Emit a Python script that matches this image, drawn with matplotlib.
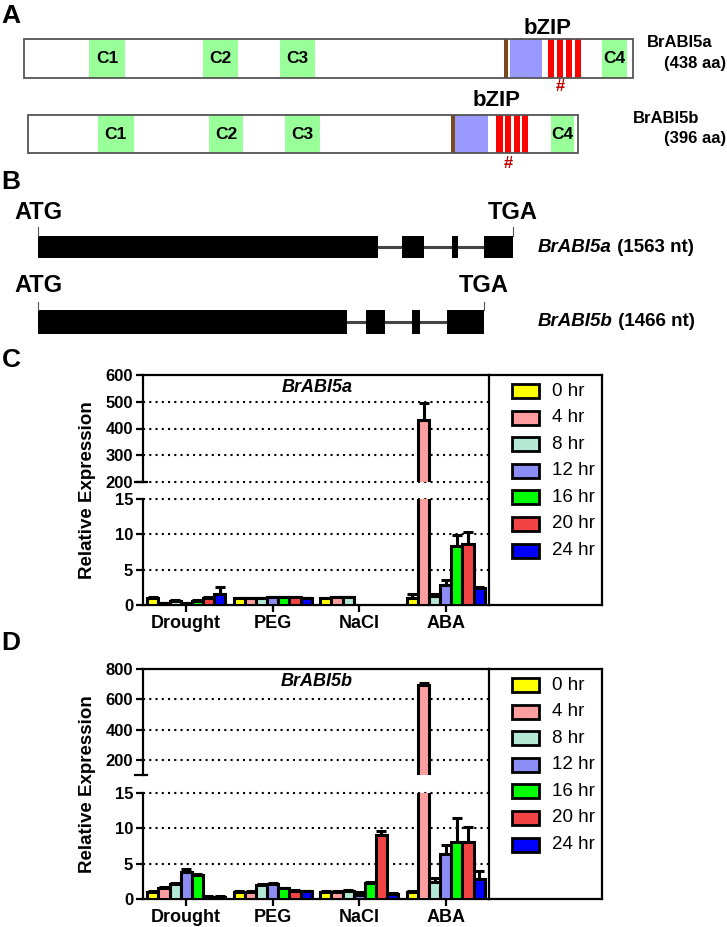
# -*- coding: utf-8 -*-
# Domain structure, gene structure and expression of BrABI5a / BrABI5b.

import numpy as np
import matplotlib
matplotlib.use('Agg')
import matplotlib.pyplot as plt
from matplotlib.patches import Rectangle

plt.rcParams['font.family'] = ['Liberation Sans', 'DejaVu Sans']
plt.rcParams['font.weight'] = 'bold'

# ---------------- data ----------------
protein_names = ['BrABI5a', 'BrABI5b']
protein_lengths = [438, 396]
conserved_labels = ['C1', 'C2', 'C3', 'C4']
conserved_a = [(47, 73), (129, 154), (184, 209), (416, 434)]
conserved_b = [(50, 76), (130, 155), (185, 210), (376, 393)]
brown_site = [345, 304]
basic_region = [(350, 373), (307, 331)]
zipper_region = [(377, 401), (337, 360)]

gene_names = ['BrABI5a', 'BrABI5b']
gene_lengths = [1563, 1466]
exons_a = [(0, 1120), (1196, 1271), (1361, 1382), (1468, 1563)]
exons_b = [(0, 1015), (1080, 1141), (1231, 1258), (1345, 1466)]

conditions = ['Drought', 'PEG', 'NaCl', 'ABA']
time_labels = ['0 hr', '4 hr', '8 hr', '12 hr', '16 hr', '20 hr', '24 hr']
time_colors = ['#FFFF00', '#FF9E9E', '#B2E8D4', '#8C8CF5', '#00FF00', '#F24444', '#0000FF']

# rows = conditions, columns = time points
abi5a_mean = [[1.0, 0.25, 0.6, 0.25, 0.6, 1.0, 1.6],
              [1.0, 1.0, 1.0, 1.1, 1.1, 1.1, 1.0],
              [1.0, 1.1, 1.1, np.nan, np.nan, np.nan, np.nan],
              [1.0, 430, 1.3, 2.8, 8.4, 8.7, 2.4]]
abi5a_err = [[0.1, 0.05, 0.1, 0.05, 0.1, 0.1, 0.9],
             [0.05, 0.05, 0.05, 0.05, 0.05, 0.05, 0.05],
             [0.05, 0.1, 0.1, np.nan, np.nan, np.nan, np.nan],
             [0.5, 67, 0.2, 0.7, 1.5, 1.6, 0.15]]

abi5b_mean = [[1.0, 1.5, 2.1, 3.8, 3.4, 0.35, 0.35],
              [1.0, 1.0, 2.0, 2.1, 1.5, 1.2, 1.1],
              [1.0, 1.0, 1.2, 0.6, 2.3, 9.0, 0.7],
              [1.0, 692, 2.4, 6.3, 8.0, 8.1, 2.8]]
abi5b_err = [[0.1, 0.15, 0.15, 0.4, 0.2, 0.05, 0.05],
             [0.1, 0.1, 0.15, 0.2, 0.1, 0.1, 0.1],
             [0.1, 0.1, 0.1, 0.4, 0.1, 0.6, 0.1],
             [0.1, 18, 0.6, 1.3, 3.4, 2.1, 1.2]]

W, H = 727, 927


def fig_box(x0, y0, x1, y1):
    return [x0 / W, 1 - y1 / H, (x1 - x0) / W, (y1 - y0) / H]


# # Draw one protein with its conserved domains and bZIP region.
def draw_protein(ax, x0, y0, y1, length, boxes, brown, basic, zipper, name, name_x, hash_y, bzip_y):
    s = 1.39
    h = y1 - y0
    ax.add_patch(Rectangle((x0, y0), length * s, h, fc='white', ec='none', zorder=1))
    for lab, (a, b) in zip(conserved_labels, boxes):
        ax.add_patch(Rectangle((x0 + a * s, y0), (b - a) * s, h, fc='#99FF99', ec='none', zorder=2))
        ax.text(x0 + (a + b) / 2 * s, (y0 + y1) / 2, lab, ha='center', va='center', fontsize=12.5, zorder=4)
    ax.add_patch(Rectangle((x0 + brown * s, y0), 4, h, fc='#7B4A1E', ec='none', zorder=2))
    ax.add_patch(Rectangle((x0 + basic[0] * s, y0), (basic[1] - basic[0]) * s, h,
                           fc='#9999FF', ec='none', zorder=2))
    zw = (zipper[1] - zipper[0]) * s
    r = zw * 0.19
    g = (zw - 4 * r) / 3
    zx = x0 + zipper[0] * s
    for k in range(4):
        ax.add_patch(Rectangle((zx + k * (r + g), y0), r, h, fc='#FF0000', ec='none', zorder=2))
    ax.text(zx + r + g + r / 2, hash_y, '#', color='#C00000', ha='center', va='center', fontsize=12)
    ax.text(zx, bzip_y, 'bZIP', ha='center', va='center', fontsize=16)
    ax.add_patch(Rectangle((x0, y0), length * s, h, fc='none', ec='#555555', lw=1.3, zorder=5))
    ax.text(name_x, (y0 + y1) / 2 - 16, name, ha='left', va='center', fontsize=12)
    ax.text(726, y1 - 15, '(%d aa)' % length, ha='right', va='center', fontsize=12)


# # Draw exon / intron structure of one gene.
def draw_gene(ax, x0, y_txt, y_br, y0, y1, exons, length, name):
    s = 0.304
    yc = (y0 + y1) / 2
    x_end = x0 + length * s
    ax.plot([x0 + exons[0][1] * s, x0 + exons[-1][0] * s], [yc, yc], color='#444444', lw=2.2, zorder=1)
    for a, b in exons:
        ax.add_patch(Rectangle((x0 + a * s, y0), (b - a) * s, y1 - y0, fc='black', ec='none', zorder=2))
    for xx in (x0, x_end):
        ax.plot([xx, xx], [y_br, y0], color='#555555', lw=0.8)
    ax.text(x0, y_txt, 'ATG', ha='center', va='center', fontsize=17)
    ax.text(x_end, y_txt, 'TGA', ha='center', va='center', fontsize=17)
    t = ax.text(538, yc, name, ha='left', va='center', fontsize=13.5, style='italic')
    ax.annotate(' (%d nt)' % length, xy=(1, 0), xycoords=t, ha='left', va='bottom', fontsize=13.5)


# # Draw broken-axis expression bar chart with a boxed legend.
def draw_expression(fig, y_top, y_hi, y_lo, y_bot, means, errs, up_lim, up_ticks, gene):
    means = np.array(means, dtype=float)
    errs = np.array(errs, dtype=float)
    ax_up = fig.add_axes(fig_box(143, y_top, 489, y_hi))
    ax_lo = fig.add_axes(fig_box(143, y_lo, 489, y_bot))
    x = np.arange(len(conditions))
    w = 0.9 / len(time_labels)
    for ax in (ax_up, ax_lo):
        for j, col in enumerate(time_colors):
            xs = x + (j - 3) * w
            ax.bar(xs, means[:, j], w, color=col, edgecolor='black', linewidth=2.2, zorder=3)
            ax.errorbar(xs, means[:, j], yerr=[np.zeros(len(x)), errs[:, j]], fmt='none',
                        ecolor='black', elinewidth=2.2, capsize=3.5, capthick=2.2, zorder=2.5)
        ax.set_xlim(-0.5, 3.5)
        for sp in ax.spines.values():
            sp.set_linewidth(1.6)
        ax.spines['right'].set_visible(False)
        ax.tick_params(axis='y', direction='out', length=5, width=1.6, labelsize=12, pad=2)
        ax.tick_params(axis='x', direction='out', length=5, width=1.6, labelsize=13, pad=2)
        ax.patch.set_alpha(0)

    ax_up.set_ylim(*up_lim)
    ax_up.set_yticks(up_ticks)
    ax_up.set_xticks([])
    ax_up.spines['bottom'].set_visible(False)
    for v in up_ticks:
        if v < up_lim[1]:
            ax_up.axhline(v, color='black', ls=(0, (1, 2)), lw=1.5, zorder=1, clip_on=False)
    ax_up.plot([-0.022, 0.012], [0, 0], transform=ax_up.transAxes, color='black', lw=1.6, clip_on=False)

    ax_lo.set_ylim(0, 15)
    ax_lo.set_yticks([0, 5, 10, 15])
    ax_lo.set_xticks(x)
    ax_lo.set_xticklabels(conditions)
    ax_lo.spines['top'].set_visible(False)
    for v in (5, 10, 15):
        ax_lo.axhline(v, color='black', ls=(0, (1, 2)), lw=1.5, zorder=1, clip_on=False)

    # legend box
    lg = fig.add_axes(fig_box(489, y_top, 602, y_bot))
    lg.set_xlim(0, 113)
    lg.set_ylim(y_bot - y_top, 0)
    lg.set_xticks([])
    lg.set_yticks([])
    for sp in lg.spines.values():
        sp.set_linewidth(1.6)
    for i, (lab, col) in enumerate(zip(time_labels, time_colors)):
        yc = 16 + i * 26.6
        lg.add_patch(Rectangle((23, yc - 7), 27, 14, fc=col, ec='black', lw=2))
        lg.text(63, yc, lab, ha='left', va='center', fontsize=13.5, fontweight='normal')

    fig.text(317 / W, 1 - (y_top + 12) / H, gene, ha='center', va='center', fontsize=13, style='italic')
    fig.text(88 / W, 1 - (y_top + y_bot) / 2 / H, 'Relative Expression', rotation=90,
             ha='center', va='center', fontsize=13.5)


fig = plt.figure(figsize=(W / 100, H / 100), dpi=100)
ax0 = fig.add_axes([0, 0, 1, 1])
ax0.set_xlim(0, W)
ax0.set_ylim(H, 0)
ax0.axis('off')

for lab, yy in zip('ABCD', [16, 182, 360, 643]):
    ax0.text(11, yy, lab, ha='center', va='center', fontsize=19)

draw_protein(ax0, 24, 39, 78, protein_lengths[0], conserved_a, brown_site[0], basic_region[0],
             zipper_region[0], protein_names[0], 647, 86, 28)
draw_protein(ax0, 28, 115, 153, protein_lengths[1], conserved_b, brown_site[1], basic_region[1],
             zipper_region[1], protein_names[1], 633, 163, 100)

draw_gene(ax0, 38, 212, 227, 236, 258, exons_a, gene_lengths[0], gene_names[0])
draw_gene(ax0, 38, 285, 302, 310, 334, exons_b, gene_lengths[1], gene_names[1])

draw_expression(fig, 375, 482, 499, 605, abi5a_mean, abi5a_err, (200, 600),
                [200, 300, 400, 500, 600], 'BrABI5a')
draw_expression(fig, 669, 775, 793, 899, abi5b_mean, abi5b_err, (100, 800),
                [200, 400, 600, 800], 'BrABI5b')

plt.savefig('out.png', dpi=100)
